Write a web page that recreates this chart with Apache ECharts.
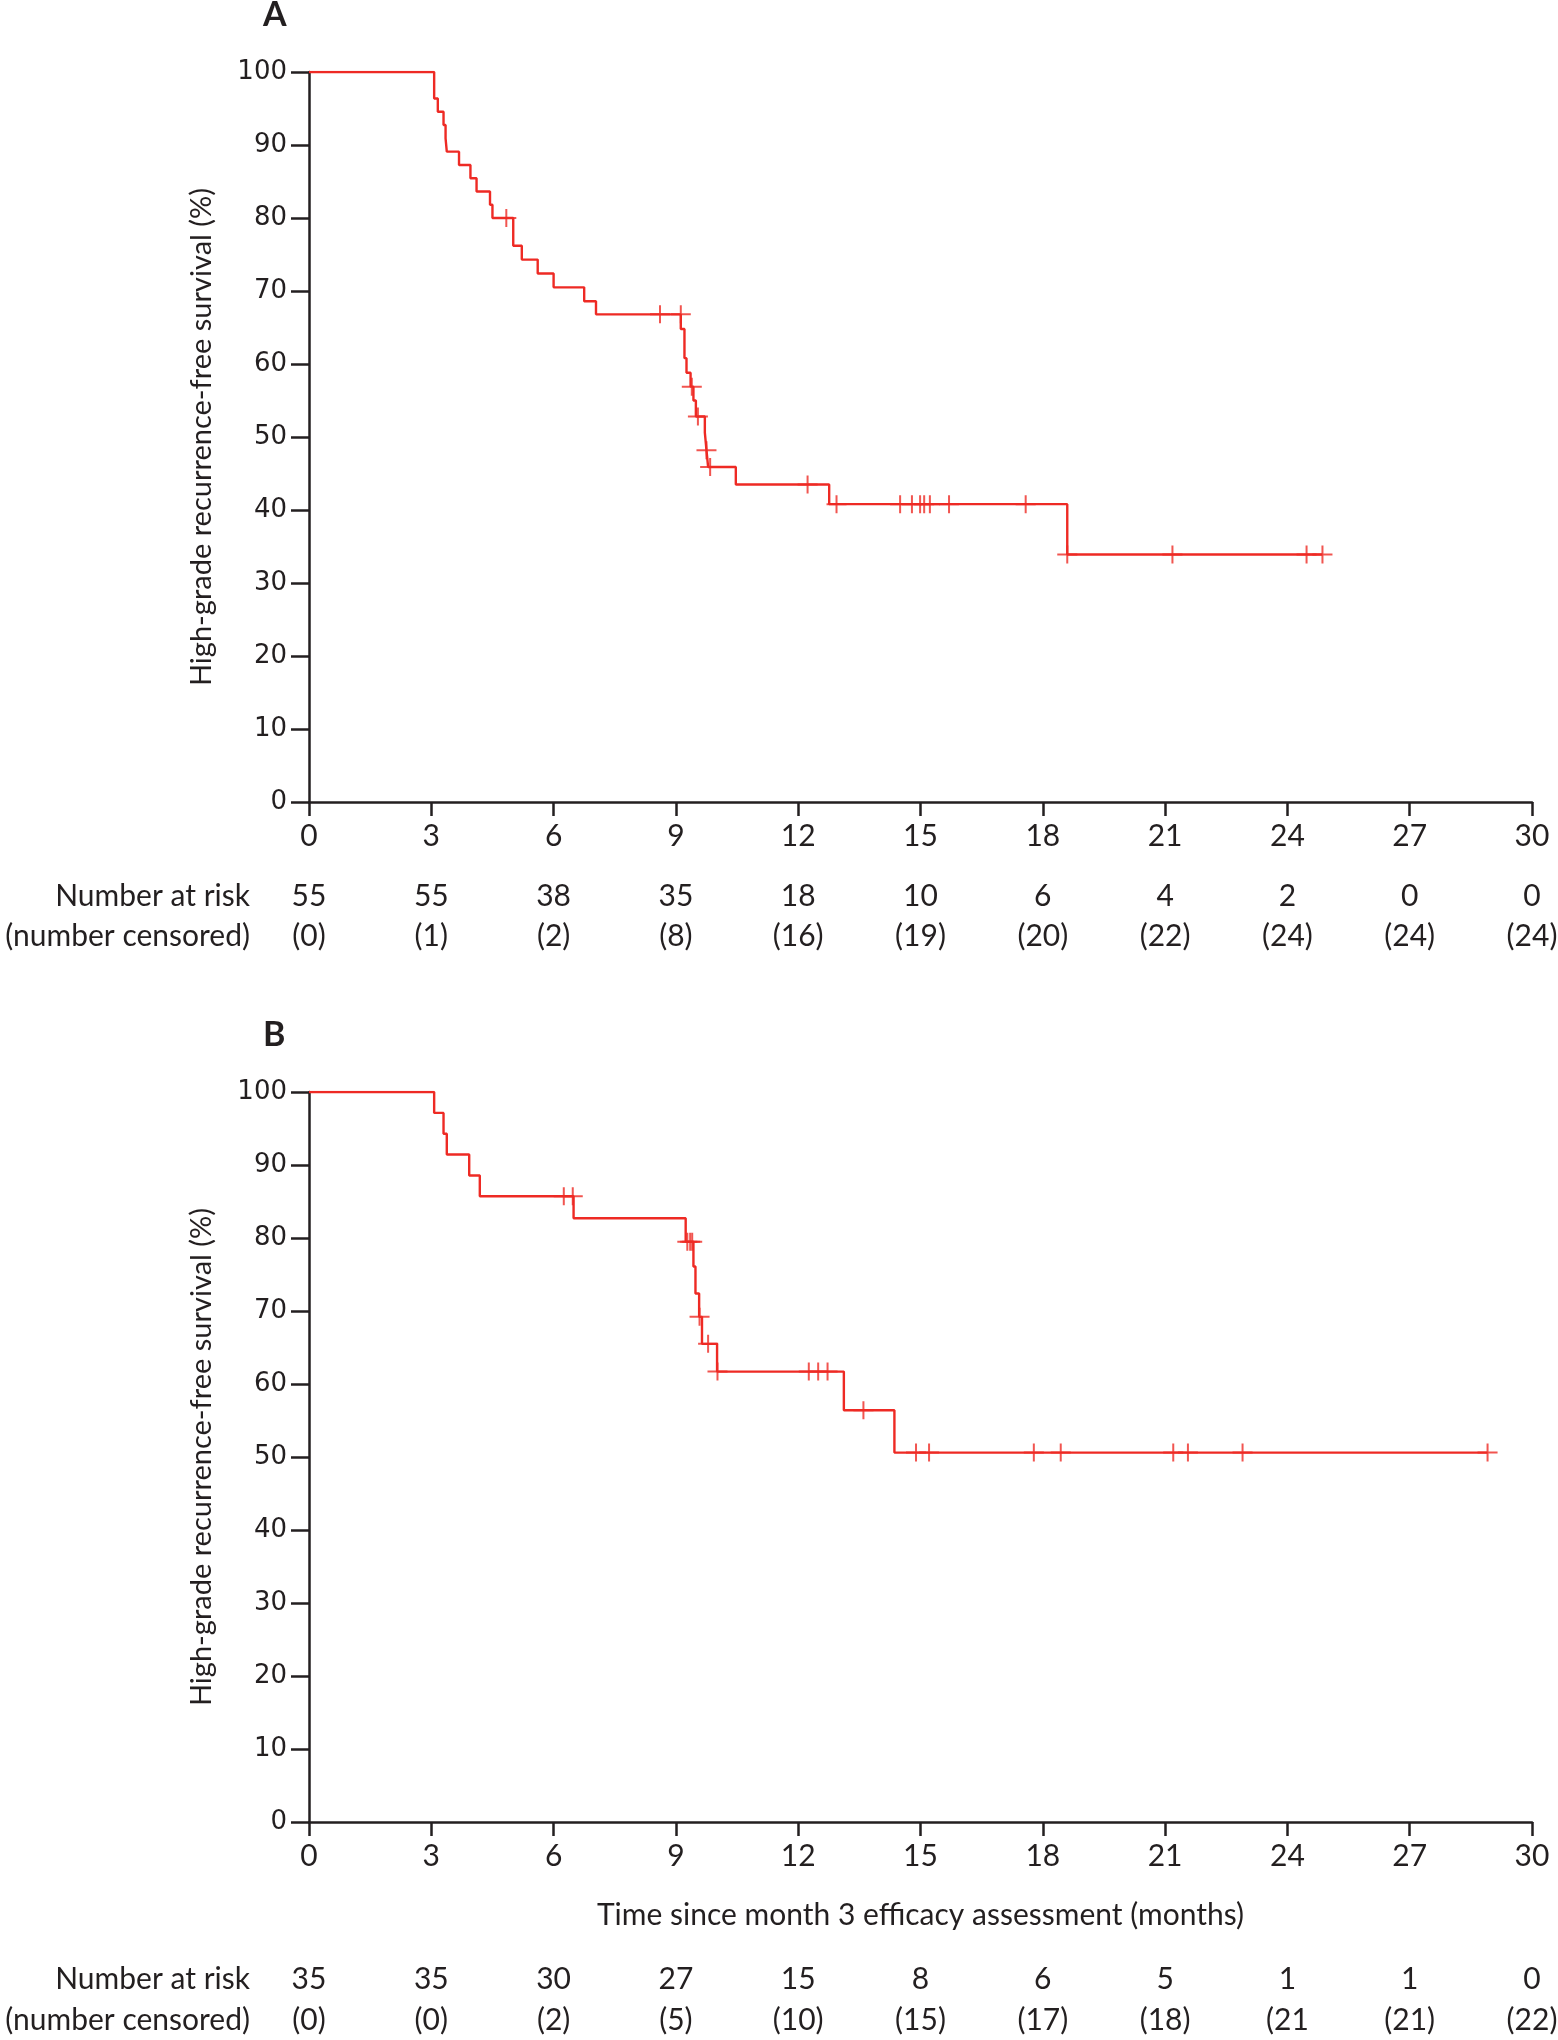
<!DOCTYPE html>
<html>
<head>
<meta charset="utf-8">
<script src="https://cdn.jsdelivr.net/npm/echarts@6/dist/echarts.min.js"></script>
<style>
html,body{margin:0;padding:0;background:#fff;}
#chart{width:1558px;height:2040px;}
</style>
</head>
<body>
<div id="chart"></div>
<script>
// ---- data ----
const xTickLabels = ['0','3','6','9','12','15','18','21','24','27','30'];
const yTickLabels = ['0','10','20','30','40','50','60','70','80','90','100'];

// Panel A: Kaplan-Meier steps [months, survival %]
const survA = [[0,100],[3.07,96.36],[3.16,94.55],[3.30,92.73],[3.35,90.91],[3.38,89.09],[3.68,87.27],[3.96,85.45],[4.11,83.64],[4.44,81.82],[4.50,80.0],[5.01,76.2],[5.22,74.3],[5.61,72.4],[6.00,70.5],[6.75,68.6],[7.04,66.8],[9.12,64.8],[9.21,60.8],[9.26,58.8],[9.36,56.9],[9.43,55.0],[9.49,52.8],[9.71,50.6],[9.75,48.2],[9.79,45.9],[10.47,43.5],[12.76,40.8],[18.60,33.9],[24.86,33.9]];
const censorA = [[4.84,80.0],[8.61,66.8],[9.12,66.8],[9.39,56.9],[9.54,52.8],[9.75,48.2],[9.84,45.9],[12.23,43.5],[12.94,40.8],[14.50,40.8],[14.79,40.8],[14.99,40.8],[15.09,40.8],[15.23,40.8],[15.70,40.8],[17.58,40.8],[18.60,33.9],[21.18,33.9],[24.47,33.9],[24.86,33.9]];
const riskA = ['55','55','38','35','18','10','6','4','2','0','0'];
const censoredA = ['(0)','(1)','(2)','(8)','(16)','(19)','(20)','(22)','(24)','(24)','(24)'];

// Panel B
const survB = [[0,100],[3.07,97.14],[3.30,94.29],[3.38,91.43],[3.93,88.57],[4.19,85.71],[6.49,82.7],[9.24,79.5],[9.43,76.1],[9.48,72.4],[9.57,69.2],[9.64,65.5],[10.01,61.7],[13.12,56.4],[14.36,50.6],[28.91,50.6]];
const censorB = [[6.25,85.71],[6.47,85.71],[9.28,79.5],[9.35,79.5],[9.40,79.5],[9.58,69.2],[9.79,65.5],[10.02,61.7],[12.26,61.7],[12.49,61.7],[12.72,61.7],[13.60,56.4],[14.89,50.6],[15.21,50.6],[17.78,50.6],[18.44,50.6],[21.20,50.6],[21.56,50.6],[22.90,50.6],[28.91,50.6]];
const riskB = ['35','35','30','27','15','8','6','5','1','1','0'];
const censoredB = ['(0)','(0)','(2)','(5)','(10)','(15)','(17)','(18)','(21','(21)','(22)'];

const panelTitles = ['A','B'];
const yName = 'High-grade recurrence-free survival (%)';
const xName = 'Time since month 3 efficacy assessment (months)';

// ---- styling ----
const INK = '#231f20';
const RED = '#ee2a24';
const FONT = 'Lato';
const plus = 'path://M9,0 L11,0 L11,8 L20,8 L20,10 L11,10 L11,18 L9,18 L9,10 L0,10 L0,8 L9,8 Z';

function mainX(grid, withName) {
  const ax = {
    type: 'value', gridIndex: grid, min: 0, max: 30, interval: 3,
    axisLine: {show: true, lineStyle: {color: INK, width: 2.5}},
    axisTick: {show: true, length: 14, lineStyle: {color: INK, width: 2.5}},
    splitLine: {show: false},
    axisLabel: {show: true, margin: 34, verticalAlign: 'middle', fontFamily: FONT, fontSize: 30, color: INK,
      showMinLabel: true, showMaxLabel: true,
      formatter: v => xTickLabels[Math.round(v / 3)]}
  };
  if (withName) {
    ax.name = xName; ax.nameLocation = 'middle'; ax.nameGap = 78;
    ax.nameTextStyle = {fontFamily: FONT, fontSize: 30, color: INK};
  }
  return ax;
}
function rowX(grid, offset, labels, name) {
  return {
    type: 'value', gridIndex: grid, min: 0, max: 30, interval: 3, position: 'bottom', offset: offset,
    axisLine: {show: false}, axisTick: {show: false}, splitLine: {show: false},
    axisLabel: {show: true, margin: 0, verticalAlign: 'middle', fontFamily: FONT, fontSize: 30, color: INK,
      showMinLabel: true, showMaxLabel: true,
      formatter: v => labels[Math.round(v / 3)]},
    name: name, nameLocation: 'start', nameGap: 59,
    nameTextStyle: {fontFamily: FONT, fontSize: 30, color: INK, align: 'right', verticalAlign: 'middle'}
  };
}
function mainY(grid) {
  return {
    type: 'value', gridIndex: grid, min: 0, max: 100, interval: 10,
    axisLine: {show: true, lineStyle: {color: INK, width: 2.5}},
    axisTick: {show: true, length: 18, lineStyle: {color: INK, width: 2.5}},
    splitLine: {show: false},
    axisLabel: {show: true, margin: 22, fontFamily: 'DejaVu Sans', fontSize: 26, color: INK,
      showMinLabel: true, showMaxLabel: true,
      formatter: v => yTickLabels[Math.round(v / 10)]},
    name: yName, nameLocation: 'middle', nameGap: 93, nameRotate: 90,
    nameTextStyle: {fontFamily: FONT, fontSize: 29, color: INK}
  };
}
function kmSeries(xi, yi, surv, cens) {
  return [
    {type: 'line', xAxisIndex: xi, yAxisIndex: yi, data: surv, step: 'end', showSymbol: false,
     lineStyle: {color: RED, width: 2.4}, itemStyle: {color: RED}, z: 3},
    {type: 'scatter', xAxisIndex: xi, yAxisIndex: yi, data: cens, symbol: plus, symbolSize: [20, 18],
     itemStyle: {color: RED}, z: 4}
  ];
}

const chart = echarts.init(document.getElementById('chart'), null, {renderer: 'canvas'});
chart.setOption({
  animation: false,
  backgroundColor: '#fff',
  title: [
    {text: panelTitles[0], left: 263, top: -2, padding: 0, textStyle: {fontFamily: FONT, fontWeight: 'bold', fontSize: 34, color: INK}},
    {text: panelTitles[1], left: 263, top: 1018, padding: 0, textStyle: {fontFamily: FONT, fontWeight: 'bold', fontSize: 34, color: INK}}
  ],
  grid: [
    {left: 309, top: 72, width: 1223, height: 730, containLabel: false, outerBoundsMode: 'none'},
    {left: 309, top: 1092, width: 1223, height: 730, containLabel: false, outerBoundsMode: 'none'}
  ],
  xAxis: [
    mainX(0, false),
    rowX(0, 94, riskA, 'Number at risk'),
    rowX(0, 134, censoredA, '(number censored)'),
    mainX(1, true),
    rowX(1, 157, riskB, 'Number at risk'),
    rowX(1, 198, censoredB, '(number censored)')
  ],
  yAxis: [mainY(0), mainY(1)],
  series: [].concat(kmSeries(0, 0, survA, censorA), kmSeries(3, 1, survB, censorB))
});
</script>
</body>
</html>
